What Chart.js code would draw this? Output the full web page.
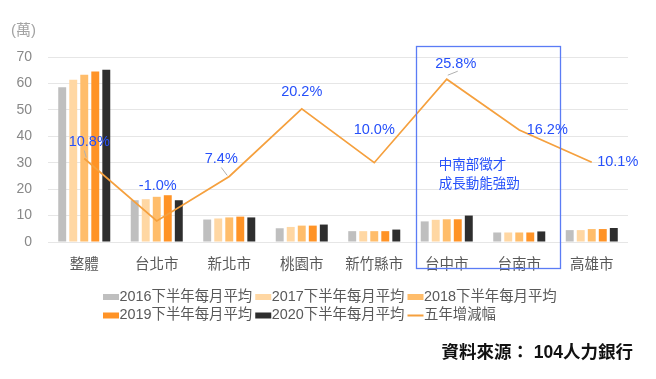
<!DOCTYPE html>
<html><head><meta charset="utf-8">
<script src="https://cdn.jsdelivr.net/npm/chart.js@4/dist/chart.umd.min.js"></script>
<style>html,body{margin:0;padding:0;background:#fff}</style></head>
<body><canvas id="c" width="656" height="379"></canvas>
<script>
const categories = ['整體','台北市','新北市','桃園市','新竹縣市','台中市','台南市','高雄市'];
const s2016 = [58.6,15.8,8.5,5.2,4.1,7.8,3.6,4.5];
const s2017 = [61.4,16.2,8.9,5.7,4.1,8.4,3.6,4.5];
const s2018 = [63.3,17.1,9.3,6.2,4.1,8.6,3.6,4.9];
const s2019 = [64.5,17.7,9.6,6.2,4.1,8.6,3.6,4.9];
const s2020 = [65.2,15.8,9.3,6.6,4.7,10.0,4.0,5.3];
const growth = [10.8,-1.0,7.4,20.2,10.0,25.8,16.2,10.1];
const barNames = ['2016下半年每月平均','2017下半年每月平均','2018下半年每月平均','2019下半年每月平均','2020下半年每月平均'];
const lineName = '五年增減幅';
const unitLabel = '(萬)';
const noteLines = ['中南部徵才','成長動能強勁'];
const sourceText = '資料來源： 104人力銀行';

const barColors = ['#bfbfbf','#ffd7a3','#ffbd6b','#ff9326','#2e2e2e'];
const lineColor = '#f5a03e';
const blue = '#2650fa';
const FONT = '"Liberation Sans", "Noto Sans CJK TC", sans-serif';
// label offsets (style): [dx, dy, leader]
const labelOffsets = [[5,-16,1],[1,-35,0],[-8,-17,1],[0,-17,0],[0,-33,0],[9,-15,1],[28,0,0],[26,0,0]];

const barSeries = [s2016,s2017,s2018,s2019,s2020];
const datasets = barSeries.map((d,i)=>({
  type:'bar', label:barNames[i], data:d, backgroundColor:barColors[i],
  yAxisID:'y', categoryPercentage:0.76, barPercentage:0.72, order:2
}));
datasets.push({type:'line', label:lineName, data:growth, borderColor:lineColor, borderWidth:1.7,
  pointRadius:0, tension:0, yAxisID:'y1', order:1});

const extras = {
  id:'extras',
  afterDatasetsDraw(chart){
    const ctx = chart.ctx;
    const xs = chart.scales.x;
    const ca = chart.chartArea;
    const cw = xs.getPixelForValue(1) - xs.getPixelForValue(0);
    ctx.save();
    ctx.strokeStyle = '#5b7cf5'; ctx.lineWidth = 1.3;
    const bl = xs.getPixelForValue(5) - 0.43*cw, br = xs.getPixelForValue(6) + 0.55*cw;
    ctx.strokeRect(Math.round(bl)+0.5, ca.top-11+0.5, Math.round(br-bl), 222);
    ctx.fillStyle = blue; ctx.font = '13.5px ' + FONT; ctx.textBaseline='middle'; ctx.textAlign='left';
    noteLines.forEach((t,i)=>ctx.fillText(t, xs.getPixelForValue(5)-8, 165 + i*19));
    const meta = chart.getDatasetMeta(5);
    ctx.font = '14.5px ' + FONT; ctx.textAlign='center';
    meta.data.forEach((p,i)=>{
      const [dx,dy,lead] = labelOffsets[i];
      if(lead){
        ctx.strokeStyle='#b0b0b0'; ctx.lineWidth=1;
        ctx.beginPath();
        if(i===5){ ctx.moveTo(p.x+1,p.y-4); ctx.lineTo(p.x+11,p.y-8); }
        else { ctx.moveTo(p.x + (i===2?-8:0), p.y-(i===2?9:8)); ctx.lineTo(p.x+(i===2?-2:2), p.y-1); }
        ctx.stroke();
      }
      ctx.fillStyle = blue;
      ctx.fillText(growth[i].toFixed(1)+'%', p.x+dx, p.y+dy);
    });
    ctx.restore();
  },
  afterDraw(chart){
    const ctx = chart.ctx;
    ctx.save();
    ctx.fillStyle='#a3a3a3'; ctx.font='15px '+FONT; ctx.textBaseline='middle'; ctx.textAlign='left';
    ctx.fillText(unitLabel, 11, 31);
    ctx.font='14.4px '+FONT; ctx.fillStyle='#595959';
    const items = barNames.map((n,i)=>({n, c:barColors[i], line:false})).concat([{n:lineName,c:lineColor,line:true}]);
    const rows = [items.slice(0,3), items.slice(3)];
    rows.forEach((row,r)=>{
      let x = 103; const y = 297 + r*18.5;
      row.forEach(it=>{
        if(it.line){ ctx.fillStyle=it.c; ctx.fillRect(x, y-1, 16, 2); }
        else { ctx.fillStyle=it.c; ctx.fillRect(x, y-3, 16, 6); }
        x += 16.5;
        ctx.fillStyle='#595959'; ctx.fillText(it.n, x, y);
        x += ctx.measureText(it.n).width + 3;
      });
    });
    ctx.fillStyle='#111'; ctx.font='bold 17.5px '+FONT; ctx.textAlign='right';
    ctx.fillText(sourceText, 633, 353);
    ctx.restore();
  }
};

new Chart(document.getElementById('c'), {
  data:{labels:categories, datasets},
  options:{
    responsive:false, animation:false,
    layout:{padding:{top:57, right:28, left:0, bottom:0}},
    plugins:{legend:{display:false}, tooltip:{enabled:false}},
    scales:{
      x:{
        grid:{display:false, drawTicks:false}, border:{display:false},
        ticks:{color:'#595959', font:{size:14.5, family:FONT}, padding:14, maxRotation:0, autoSkip:false},
        afterFit(s){ s.height = 137; }
      },
      y:{
        min:0, max:70,
        ticks:{stepSize:10, color:'#888888', font:{size:14, family:FONT}, padding:16},
        grid:{color:'#e6e6e6', drawTicks:false, lineWidth:1}, border:{display:false},
        afterFit(s){ s.width = 48; }
      },
      y1:{ min:-5, max:30, display:false }
    }
  },
  plugins:[extras]
});
</script>
</body></html>
